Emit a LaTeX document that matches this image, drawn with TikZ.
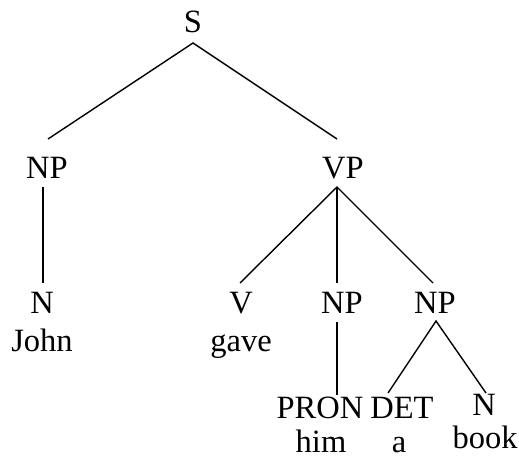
\documentclass[tikz,border=0pt]{standalone}
\usepackage{fontspec}
\setmainfont{Liberation Serif}
\usetikzlibrary{calc}
\begin{document}
\begin{tikzpicture}[x=1pt,y=-1pt,
  lbl/.style={anchor=base,inner sep=0pt,font=\fontsize{32.5}{38}\selectfont},
  branch/.style={line width=1.4pt}]
\useasboundingbox (0,0) rectangle (519,460);
% category labels and words
\node[lbl] (s)    at (193,33)  {S};
\node[lbl] (np1)  at (47,178)  {NP};
\node[lbl] (vp)   at (343,178) {VP};
\node[lbl] (n1)   at (42,313)  {N};
\node[lbl] (john) at (42,351)  {John};
\node[lbl] (v)    at (241,313) {V};
\node[lbl] (gave) at (241,351) {gave};
\node[lbl] (np2)  at (342,313) {NP};
\node[lbl] (np3)  at (435,313) {NP};
\node[lbl] (pron) at (320,418) {PRON};
\node[lbl] (him)  at (321,452) {him};
\node[lbl] (det)  at (402,418) {DET};
\node[lbl] (a)    at (399,452) {a};
\node[lbl] (n2)   at (484,415) {N};
\node[lbl] (book) at (485,448) {book};
% branches
\draw[branch] ($(np1.base)+(1,-39)$) -- ($(s.base)+(0,10)$) -- ($(vp.base)+(-6,-39)$);
\draw[branch] ($(np1.base)+(-4,9)$) -- ($(n1.base)+(1,-30)$);
\draw[branch] ($(v.base)+(-1,-30)$) -- ($(vp.base)+(-6,9)$) -- ($(np3.base)+(-2,-30)$);
\draw[branch] ($(vp.base)+(-6,9)$) -- ($(np2.base)+(-5,-30)$);
\draw[branch] ($(np2.base)+(-5,9)$) -- ($(pron.base)+(17,-23)$);
\draw[branch] ($(det.base)+(-14,-25)$) -- ($(np3.base)+(1,8)$) -- ($(n2.base)+(2,-22)$);
\end{tikzpicture}
\end{document}
